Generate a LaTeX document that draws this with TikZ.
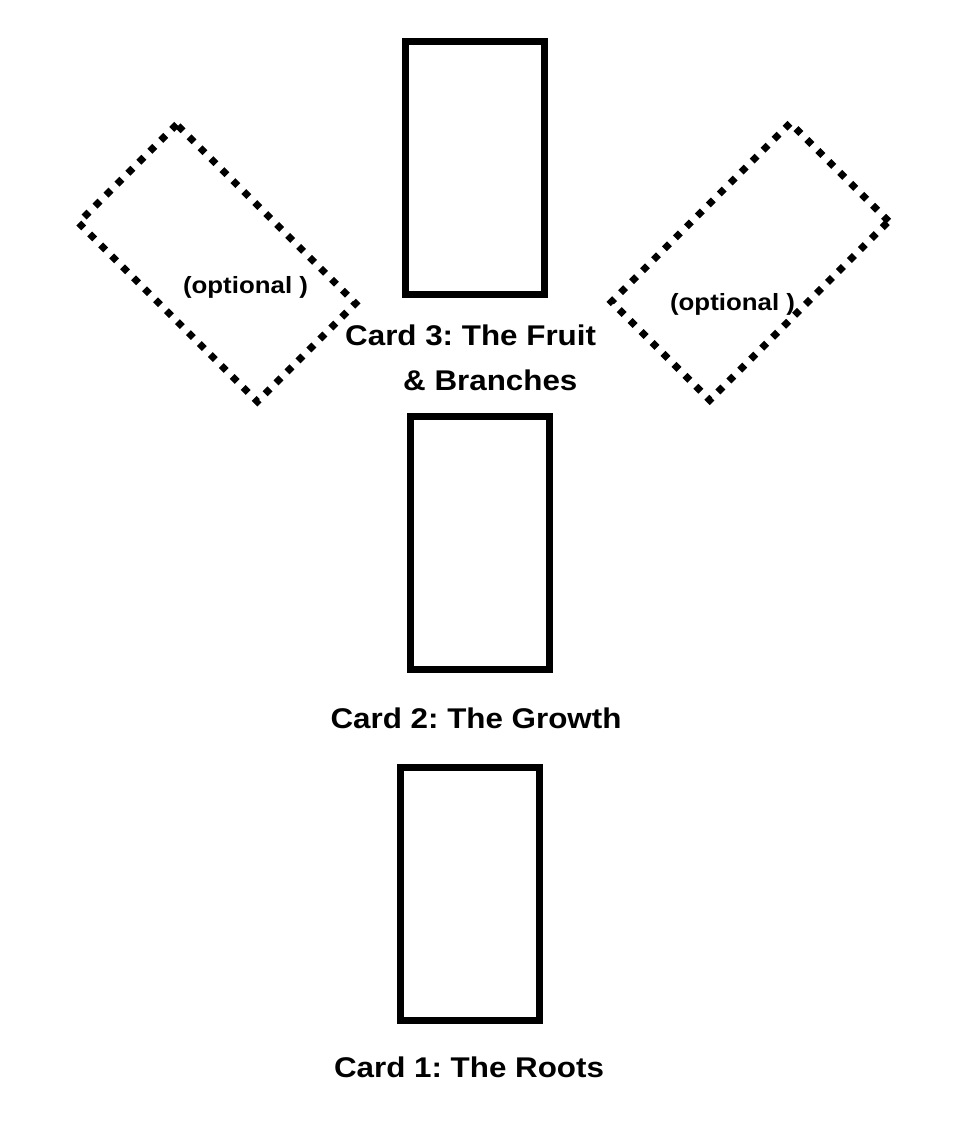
\documentclass[tikz,border=0pt]{standalone}
\usepackage{fontspec}
\newfontfamily\cardfont{Liberation Sans}[FakeStretch=1.1]
\frenchspacing

\def \cw {139}
\def \ch {253}

\begin{document}
\begin{tikzpicture}[x=1pt,y=-1pt,
    card/.style={draw, line width=7pt, minimum width=\cw pt, minimum height=\ch pt, inner sep=0pt},
    optcard/.style={card, line width=7pt, dash pattern=on 7pt off 8.5pt},
    cardlabel/.style={font=\cardfont\bfseries\fontsize{28.5}{34}\selectfont, inner sep=0pt},
    optlabel/.style={font=\cardfont\bfseries\fontsize{23.5}{28}\selectfont, inner sep=0pt}]
      \useasboundingbox (0,0) rectangle (954,1132);
      %cards
      \node[card] (card3) at (475,168) {};
      \node[card] (card2) at (480,542.5) {};
      \node[card] (card1) at (469.5,894) {};
      %optional cards
      \node[optcard, rotate=45] (optleft) at (217,263) {};
      \node[optcard, rotate=-45] (optright) at (750,261.5) {};
      %labels
      \node[cardlabel, anchor=base west] (label3) at (345,345) {Card 3: The Fruit};
      \node[cardlabel, anchor=base west] (label3b) at (403,390) {\& Branches};
      \node[cardlabel, anchor=base] (label2) at (476,728) {Card 2: The Growth};
      \node[cardlabel, anchor=base] (label1) at (469,1077) {Card 1: The Roots};
      \node[optlabel, anchor=base] (optleftlabel) at (245.5,293) {(optional )};
      \node[optlabel, anchor=base] (optrightlabel) at (732.5,310) {(optional )};
\end{tikzpicture}
\end{document}
